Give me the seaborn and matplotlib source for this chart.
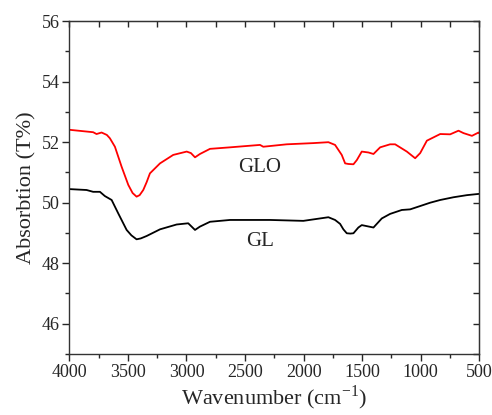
import matplotlib
matplotlib.use('Agg')
import matplotlib.pyplot as plt
import pandas as pd
import seaborn as sns
from matplotlib.ticker import MultipleLocator

# GLO spectrum (red)
glo_wn = [4000, 3797, 3768, 3725, 3680, 3654, 3611, 3554, 3497, 3460, 3426, 3400, 3369, 3340,
          3312, 3226, 3113, 2998, 2962, 2927, 2885, 2799, 2628, 2372, 2344, 2144, 1916, 1788,
          1731, 1674, 1645, 1617, 1574, 1545, 1503, 1446, 1403, 1346, 1261, 1218, 1118, 1047,
          1004, 947, 833, 748, 677, 634, 562, 506, 500]
glo_t = [52.41, 52.33, 52.27, 52.32, 52.24, 52.13, 51.85, 51.19, 50.59, 50.32, 50.20, 50.25, 50.42, 50.68,
         50.97, 51.30, 51.58, 51.69, 51.64, 51.50, 51.61, 51.78, 51.83, 51.91, 51.85, 51.93, 51.97, 52.00,
         51.91, 51.58, 51.30, 51.28, 51.27, 51.41, 51.69, 51.66, 51.61, 51.83, 51.93, 51.93, 51.69, 51.47,
         51.64, 52.05, 52.27, 52.26, 52.38, 52.30, 52.21, 52.32, 52.30]

# GL spectrum (black)
gl_wn = [4000, 3853, 3797, 3739, 3697, 3639, 3583, 3511, 3470, 3426, 3390, 3340, 3226, 3084,
         2985, 2927, 2885, 2799, 2628, 2286, 2002, 1788, 1731, 1688, 1660, 1631, 1600, 1574,
         1532, 1503, 1403, 1332, 1261, 1161, 1090, 1004, 919, 833, 720, 605, 506, 500]
gl_t = [50.45, 50.42, 50.36, 50.36, 50.22, 50.09, 49.65, 49.10, 48.92, 48.79, 48.82, 48.90, 49.12, 49.28,
        49.32, 49.10, 49.21, 49.37, 49.43, 49.43, 49.40, 49.52, 49.43, 49.30, 49.12, 48.99, 48.98, 48.99,
        49.18, 49.26, 49.18, 49.48, 49.63, 49.76, 49.78, 49.89, 50.00, 50.09, 50.18, 50.25, 50.29, 50.29]

labels = ['GLO', 'GL']
label_pos = [(2372, 51.15), (2372, 48.73)]

sns.set_style('ticks')
plt.rcParams['font.family'] = ['Liberation Serif', 'DejaVu Serif']
plt.rcParams['mathtext.fontset'] = 'stix'

df_glo = pd.DataFrame({'wn': glo_wn, 't': glo_t})
df_gl = pd.DataFrame({'wn': gl_wn, 't': gl_t})

fig = plt.figure(figsize=(4.92, 4.15), dpi=100)
ax = fig.add_axes([0.141, 0.147, 0.833, 0.802])

sns.lineplot(data=df_glo, x='wn', y='t', color='red', linewidth=1.3, ax=ax, sort=False)
sns.lineplot(data=df_gl, x='wn', y='t', color='black', linewidth=1.3, ax=ax, sort=False)

for lab, (xx, yy) in zip(labels, label_pos):
    ax.text(xx, yy, lab, fontsize=15, ha='center', va='center')

ax.set_xlim(4000, 500)
ax.set_ylim(45, 56)
ax.xaxis.set_major_locator(MultipleLocator(500))
ax.xaxis.set_minor_locator(MultipleLocator(250))
ax.yaxis.set_major_locator(MultipleLocator(2))
ax.yaxis.set_minor_locator(MultipleLocator(1))
ax.tick_params(which='major', direction='out', length=5, width=1, labelsize=13, pad=2)
ax.tick_params(which='minor', direction='out', length=3, width=1)

# mirrored ticks pointing inward on top and right
top = ax.secondary_xaxis('top')
top.xaxis.set_major_locator(MultipleLocator(500))
top.xaxis.set_minor_locator(MultipleLocator(250))
top.tick_params(which='both', direction='in', length=4, width=1, labeltop=False)
right = ax.secondary_yaxis('right')
right.yaxis.set_major_locator(MultipleLocator(1))
right.tick_params(which='both', direction='in', length=4, width=1, labelright=False)

for sp in ax.spines.values():
    sp.set_linewidth(1)
    sp.set_color('#333333')

ax.set_xlabel('Wavenumber (cm$^{\\mathregular{-1}}$)', fontsize=16, labelpad=2)
ax.set_ylabel('Absorbtion (T%)', fontsize=16, labelpad=4)

fig.savefig('out.png', dpi=100)
